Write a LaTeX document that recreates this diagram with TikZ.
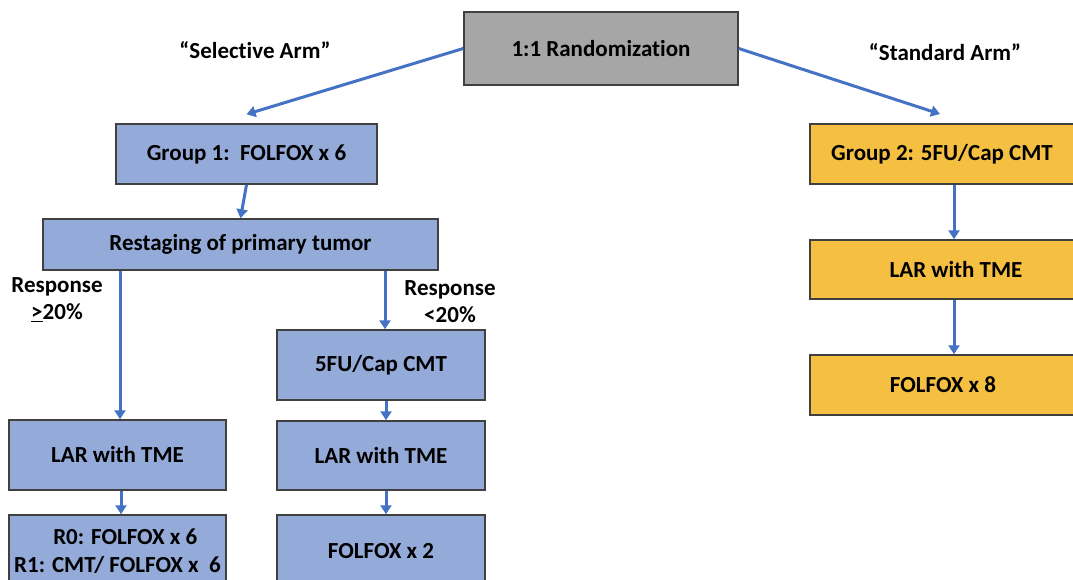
\documentclass[tikz,border=0pt]{standalone}
\usepackage{fontspec}
\setmainfont{Carlito}[Ligatures=NoCommon]
\usetikzlibrary{arrows.meta,calc}
\definecolor{boxblue}{HTML}{94ABD9}
\definecolor{boxgold}{HTML}{F5C042}
\definecolor{boxgray}{HTML}{A6A6A6}
\definecolor{edge}{HTML}{404040}
\definecolor{flow}{HTML}{4472C4}
\tikzset{
  stage/.style={draw=edge, line width=1.5pt, rectangle, inner sep=0pt,
    font=\fontsize{23}{28}\selectfont\bfseries, text=black, align=center},
  bluebox/.style={stage, fill=boxblue},
  goldbox/.style={stage, fill=boxgold},
  graybox/.style={stage, fill=boxgray},
  flowarrow/.style={draw=flow, line width=3pt,
    -{Triangle[length=9pt,width=11pt]}},
  armlabel/.style={font=\fontsize{23}{27}\selectfont\bfseries, align=center}
}
\begin{document}
\begin{tikzpicture}[x=1pt,y=-1pt]
\useasboundingbox (0,0) rectangle (1073,579);
\clip (0,0) rectangle (1073,579);

% randomization
\node[graybox, minimum width=274pt, minimum height=73pt] (rand) at (601,48.5) {\raisebox{-3pt}{1:1 Randomization}};

% selective arm
\node[bluebox, minimum width=261pt, minimum height=60pt] (g1) at (246.5,154) {Group 1:\ \ FOLFOX x 6};
\node[bluebox, minimum width=395pt, minimum height=51pt] (rest) at (240.5,244.5) {\raisebox{-2pt}{Restaging of primary tumor}};
\node[bluebox, minimum width=217pt, minimum height=70pt] (lar1) at (117.5,455) {LAR with TME};
\node[bluebox, minimum width=217pt, minimum height=72pt] (post1) at (117.5,551) {\ \ \ R0: FOLFOX x 6\\R1: CMT/ FOLFOX x\ \ 6};
\node[bluebox, minimum width=208pt, minimum height=70pt] (fu) at (381,365) {5FU/Cap CMT};
\node[bluebox, minimum width=208pt, minimum height=69pt] (lar2) at (381,455.5) {LAR with TME};
\node[bluebox, minimum width=208pt, minimum height=72pt] (post2) at (381,551) {FOLFOX x 2};

% standard arm (boxes run past the right edge)
\node[goldbox, minimum width=264pt, minimum height=60pt] (g2) at (942,154) {Group 2: 5FU/Cap CMT};
\node[goldbox, minimum width=292pt, minimum height=59pt] (lar3) at (956,269.5) {LAR with TME};
\node[goldbox, minimum width=266pt, minimum height=60pt] (post3) at (943,385) {FOLFOX x 8};

% labels
\node[armlabel] (sel) at (255,50) {“Selective Arm”};
\node[armlabel] (std) at (945,52) {“Standard Arm”};
\node[armlabel] (resphi) at (57,300) {Response\\\underline{>}20\%};
\node[armlabel] (resplo) at (450,302) {Response\\<20\%};

% connectors
\coordinate (g1in) at ($(g1.north)+(0,-9)$);
\coordinate (g2in) at (940,114);
\draw[flowarrow] (rand.west) -- (g1in);
\draw[flowarrow] (rand.east) -- (g2in);
\draw[flowarrow] (g1.south) -- (rest.north);
\draw[flowarrow] (rest.south -| 120,0) -- (lar1.north -| 120,0);
\draw[flowarrow] (rest.south -| 385,0) -- (fu.north -| 385,0);
\draw[flowarrow] (fu.south -| 386,0) -- (lar2.north -| 386,0);
\draw[flowarrow] (lar1.south -| 121,0) -- (post1.north -| 121,0);
\draw[flowarrow] (lar2.south -| 386,0) -- (post2.north -| 386,0);
\draw[flowarrow] (g2.south -| 954,0) -- (lar3.north -| 954,0);
\draw[flowarrow] (lar3.south -| 954,0) -- (post3.north -| 954,0);
\end{tikzpicture}
\end{document}
